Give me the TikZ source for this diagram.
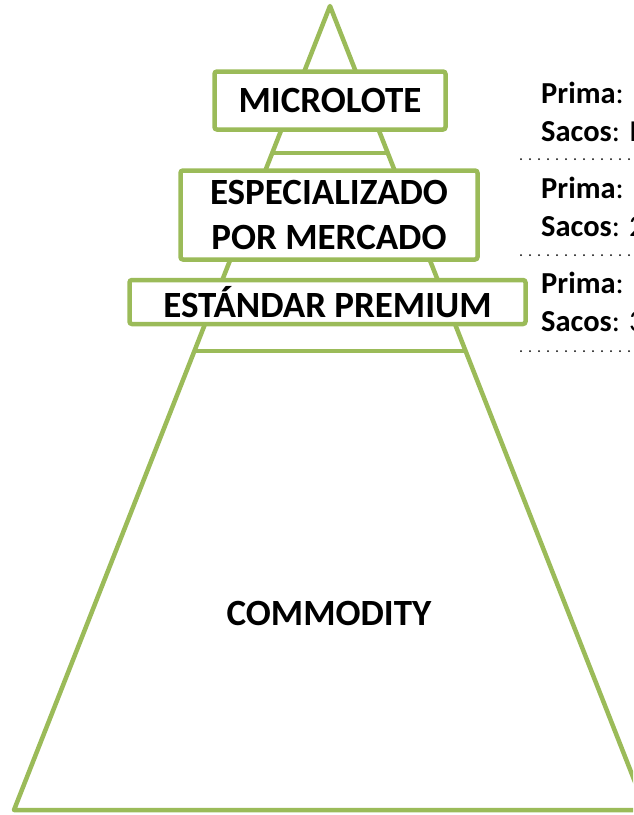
\documentclass[tikz,border=0pt]{standalone}
\usepackage{fontspec}
\setmainfont{Carlito}
\usepackage{xcolor}
\usetikzlibrary{calc}
\definecolor{PyrGreen}{HTML}{9BBB59}
\tikzset{
  every node/.style={
    font=\fontsize{37}{45}\selectfont\bfseries
  },
  level box/.style={
    shape=rectangle,
    draw=PyrGreen,
    line width=4.5pt,
    rounded corners=2.5pt,
    fill=white,
    inner sep=0pt,
    align=center
  },
  side text/.style={
    anchor=base west,
    inner sep=0pt,
    font=\fontsize{30.5}{36}\selectfont
  },
  pyramid line/.style={
    draw=PyrGreen,
    line width=4.5pt,
    line join=round
  },
  dot rule/.style={
    line width=2pt,
    line cap=round,
    dash pattern=on 0pt off 9pt
  }
}

\begin{document}
\begin{tikzpicture}[x=1pt,y=-1pt]
    \useasboundingbox (0,0) rectangle (633,815);
    \clip (0,0) rectangle (633,815);
    % pyramid
    \coordinate (apex) at (330,6);
    \coordinate (bl) at (14,810);
    \coordinate (br) at (646,810);
    \path [pyramid line] (apex) -- (bl) -- (br) -- cycle;
    \path [pyramid line] ($(apex)!0.1828!(bl)$) -- ($(apex)!0.1828!(br)$);
    \path [pyramid line] ($(apex)!0.4290!(bl)$) -- ($(apex)!0.4290!(br)$);
    % levels
    \node [level box, minimum width=231pt, minimum height=58pt] (micro) at (330,100.5) {MICROLOTE};
    \node [level box, minimum width=297pt, minimum height=89pt] (espec) at (329,215) {ESPECIALIZADO\\POR MERCADO};
    \node [level box, minimum width=396pt, minimum height=44pt] (estandar) at (327.5,302) {ESTÁNDAR PREMIUM};
    \node (commodity) at (329,613) {COMMODITY};
    % side texts
    \node [side text] (prima1) at (541,103) {\textbf{Prima}:};
    \node [side text] (sacos1) at (541,141) {\textbf{Sacos}: I};
    \node [side text] (prima2) at (541,198) {\textbf{Prima}:};
    \node [side text] (sacos2) at (541,236) {\textbf{Sacos}: 2};
    \node [side text] (prima3) at (541,293) {\textbf{Prima}:};
    \node [side text] (sacos3) at (541,331) {\textbf{Sacos}: 3};
    \coordinate (r1a) at (521,159);
    \coordinate (r1b) at (640,159);
    \coordinate (r2a) at (521,255);
    \coordinate (r2b) at (640,255);
    \coordinate (r3a) at (521,351);
    \coordinate (r3b) at (640,351);
    \draw [dot rule] (r1a) -- (r1b);
    \draw [dot rule] (r2a) -- (r2b);
    \draw [dot rule] (r3a) -- (r3b);
\end{tikzpicture}
\end{document}
